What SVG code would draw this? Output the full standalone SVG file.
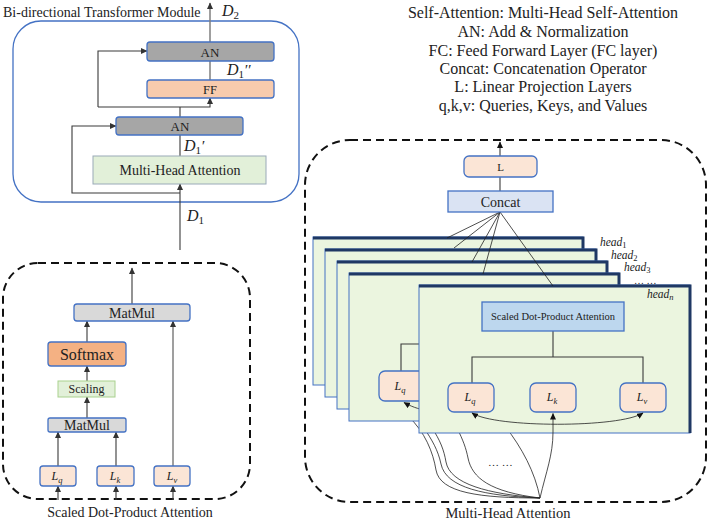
<svg xmlns="http://www.w3.org/2000/svg" width="708" height="521" viewBox="0 0 708 521">
<defs>
<marker id="ah" markerUnits="userSpaceOnUse" markerWidth="7" markerHeight="6" refX="6" refY="3" orient="auto-start-reverse"><path d="M0,0 L6.5,3 L0,6 z" fill="#111"/></marker>
<marker id="ahg" markerUnits="userSpaceOnUse" markerWidth="7" markerHeight="6" refX="6" refY="3" orient="auto"><path d="M0,0 L6.5,3 L0,6 z" fill="#333"/></marker>
<style>
text{font-family:"Liberation Serif","Times New Roman","DejaVu Serif",serif;fill:#222}
.c{text-anchor:middle}
.i{font-style:italic}
.box{stroke:#4472c4;stroke-width:1.3}
.gray{fill:#a6a6a6}
.lg{fill:#d9d9d9}
.pe{fill:#f8cbad}
.lp{fill:#fbe5d6}
.ln{fill:none;stroke:#3a3a3a;stroke-width:1.1}
.lgr{fill:none;stroke:#7f7f7f;stroke-width:1.5}
.thin{fill:none;stroke:#222;stroke-width:0.8}
.dash{fill:none;stroke:#111;stroke-width:2;stroke-dasharray:8 5}
.panel{fill:#ebf5df;stroke:#4472c4;stroke-width:1}
.pedge{fill:none;stroke:#1f3864;stroke-width:3}
</style>
</defs>

<!-- Top: Bi-directional Transformer Module -->
<text x="3" y="17" font-size="14">Bi-directional Transformer Module</text>
<rect x="13" y="21" width="286" height="181" rx="28" fill="none" stroke="#4472c4" stroke-width="1.3"/>

<g id="connectors-top">
<path class="lgr" d="M210,80 V61"/>
<path class="lgr" d="M210,42 V3" marker-end="url(#ahg)"/>
<path class="ln" d="M180,117 V107"/>
<path class="ln" d="M98,107 H210 V98" marker-end="url(#ahg)"/>
<path class="ln" d="M98,107 V51 H147" marker-end="url(#ahg)"/>
<path class="ln" d="M180,156 V135"/>
<path class="ln" d="M180,250 V184" marker-end="url(#ahg)"/>
<path class="ln" d="M180,193 H72 V126 H116" marker-end="url(#ahg)"/>
</g>

<g id="an2"><rect class="box gray" x="147" y="42" width="127" height="19" rx="3"/><text class="c" x="210" y="56.5" font-size="13">AN</text></g>
<g id="ff"><rect class="box pe" x="147" y="80" width="127" height="18" rx="3"/><text class="c" x="210" y="93.5" font-size="12.5">FF</text></g>
<g id="an1"><rect class="box gray" x="116" y="117" width="127" height="18" rx="3"/><text class="c" x="180" y="131" font-size="13">AN</text></g>
<g id="mha"><rect x="93" y="156" width="173" height="28" fill="#e2f0d9" stroke="#9aaab8" stroke-width="1"/><text class="c" x="180" y="175" font-size="14">Multi-Head Attention</text></g>

<text class="i" x="222" y="16" font-size="16">D<tspan font-size="11" dy="3" font-style="normal">2</tspan></text>
<text class="i" x="227" y="75" font-size="16">D<tspan font-size="11" dy="3" font-style="normal">1</tspan><tspan dy="-3" font-size="15">′′</tspan></text>
<text class="i" x="184" y="151" font-size="16">D<tspan font-size="11" dy="3" font-style="normal">1</tspan><tspan dy="-3" font-size="15">′</tspan></text>
<text class="i" x="187" y="221" font-size="16">D<tspan font-size="11" dy="3" font-style="normal">1</tspan></text>

<!-- Bottom-left: Scaled Dot-Product Attention -->
<rect class="dash" x="3" y="263" width="247" height="236" rx="35"/>
<g id="connectors-sdpa">
<path class="ln" d="M132,304 V268" marker-end="url(#ahg)"/>
<path class="ln" d="M87,342 V321" marker-end="url(#ahg)"/>
<path class="ln" d="M87,381 V366" marker-end="url(#ahg)"/>
<path class="ln" d="M87,418 V397" marker-end="url(#ahg)"/>
<path class="ln" d="M58,466 V432" marker-end="url(#ahg)"/>
<path class="ln" d="M116,466 V432" marker-end="url(#ahg)"/>
<path class="lgr" d="M173,466 V321" marker-end="url(#ahg)"/>
<path class="ln" d="M58,500 V486" marker-end="url(#ahg)"/>
<path class="ln" d="M116,500 V486" marker-end="url(#ahg)"/>
<path class="ln" d="M173,500 V486" marker-end="url(#ahg)"/>
</g>
<g id="matmul2"><rect class="box lg" x="74" y="304" width="116" height="17" rx="3"/><text class="c" x="132" y="317.5" font-size="14">MatMul</text></g>
<g id="softmax"><rect class="box" fill="#f4b183" x="48" y="342" width="78" height="24" rx="3"/><text class="c" x="87" y="359.5" font-size="16">Softmax</text></g>
<g id="scaling"><rect x="58" y="381" width="57" height="16" fill="#e2f0d9" stroke="#a9d18e" stroke-width="1"/><text class="c" x="86.5" y="393" font-size="12">Scaling</text></g>
<g id="matmul1"><rect class="box lg" x="48" y="418" width="78" height="14" rx="2"/><text class="c" x="87" y="430" font-size="14">MatMul</text></g>
<g id="lq1"><rect class="box lp" x="40" y="466" width="36" height="20" rx="3"/><text class="c i" x="57" y="480" font-size="12">L<tspan font-size="8.5" dy="2.5">q</tspan></text></g>
<g id="lk1"><rect class="box lp" x="97" y="466" width="37" height="20" rx="3"/><text class="c i" x="115" y="480" font-size="12">L<tspan font-size="8.5" dy="2.5">k</tspan></text></g>
<g id="lv1"><rect class="box lp" x="154" y="466" width="36" height="20" rx="3"/><text class="c i" x="172" y="480" font-size="12">L<tspan font-size="8.5" dy="2.5">v</tspan></text></g>
<text class="c" x="130" y="517" font-size="14">Scaled Dot-Product Attention</text>

<!-- Legend -->
<g id="legend">
<text class="c" x="543" y="18" font-size="16">Self-Attention: Multi-Head Self-Attention</text>
<text class="c" x="543" y="37" font-size="16">AN: Add &amp; Normalization</text>
<text class="c" x="543" y="56" font-size="16">FC: Feed Forward Layer (FC layer)</text>
<text class="c" x="543" y="74" font-size="16">Concat: Concatenation Operator</text>
<text class="c" x="543" y="92" font-size="16">L: Linear Projection Layers</text>
<text class="c" x="543" y="111" font-size="16">q,k,v: Queries, Keys, and Values</text>
</g>

<!-- Right: Multi-Head Attention -->
<rect class="dash" x="305" y="140" width="401" height="362" rx="45"/>

<g id="connectors-mha-back">
<path class="thin" d="M540,498 C480,498 440,493 436,470 C433,452 425,432 408,416"/>
<path class="thin" d="M540,498 C485,496 446,488 441,464 C438,450 432,440 424,428"/>
<path class="thin" d="M540,498 C488,494 450,484 446,462 C444,450 440,440 432,428"/>
<path class="thin" d="M540,498 C490,492 472,478 468,458 C466,448 463,440 457,428"/>
<path class="thin" d="M540,498 C535,472 522,448 505,426"/>
</g>

<g id="head1"><rect class="panel" x="313" y="237" width="270" height="148"/><path class="pedge" d="M313,238 H583 V385"/></g>
<g id="head2"><rect class="panel" x="325" y="249" width="271" height="148"/><path class="pedge" d="M325,250 H596 V397"/></g>
<g id="head3"><rect class="panel" x="337" y="261" width="270" height="148"/><path class="pedge" d="M337,262 H607 V409"/></g>
<g id="head4"><rect class="panel" x="349" y="273" width="270" height="148"/><path class="pedge" d="M349,274 H619 V421"/>
<path class="ln" d="M401,371 V344 H425"/>
<rect class="box lp" x="379" y="371" width="46" height="30" rx="6"/>
<text class="c i" x="400" y="390" font-size="12">L<tspan font-size="8.5" dy="2.5">q</tspan></text>
<path class="thin" d="M428,411 C418,409 410,406 404,402.5" marker-end="url(#ah)"/>
</g>

<g id="headn"><rect class="panel" x="419" y="285" width="271" height="148"/><path class="pedge" d="M419,286 H690 V433"/>
<path class="ln" d="M553,331 V357 M472,383 V357 H643 V383"/>
<g id="sdpa-n"><rect class="box" fill="#bdd7ee" x="482" y="302" width="142" height="29"/><text class="c" x="553" y="320" font-size="10.5">Scaled Dot-Product Attention</text></g>
<g id="lq2"><rect class="box lp" x="448" y="383" width="46" height="29" rx="6"/><text class="c i" x="470" y="401" font-size="12">L<tspan font-size="8.5" dy="2.5">q</tspan></text></g>
<g id="lk2"><rect class="box lp" x="530" y="383" width="46" height="29" rx="6"/><text class="c i" x="552" y="401" font-size="12">L<tspan font-size="8.5" dy="2.5">k</tspan></text></g>
<g id="lv2"><rect class="box lp" x="620" y="383" width="46" height="29" rx="6"/><text class="c i" x="642" y="401" font-size="12">L<tspan font-size="8.5" dy="2.5">v</tspan></text></g>
<path class="thin" d="M472,413 C495,428 620,428 643,413" marker-start="url(#ah)" marker-end="url(#ah)"/>
</g>

<g id="connectors-mha">
<path class="thin" d="M540,498 C546,472 553,455 553,432 L553,413.5" marker-end="url(#ah)"/>
<path class="thin" d="M500,212 L447,238 M500,212 L454,248 M500,212 L472,262 M500,212 L483,274 M500,212 L553,286"/>
<path class="ln" d="M500,191 V177"/>
<path class="ln" d="M500,156 V142" marker-end="url(#ah)"/>
</g>

<g id="concat"><rect class="box" fill="#dae3f3" x="448" y="191" width="105" height="21"/><text class="c" x="500.5" y="206.5" font-size="14">Concat</text></g>
<g id="lproj"><rect class="box lp" x="464" y="156" width="73" height="21" rx="5"/><text class="c" x="500.5" y="170.5" font-size="11">L</text></g>

<g id="head-labels">
<text class="i" x="600" y="246" font-size="11.5">head<tspan font-size="8.5" dy="2" font-style="normal">1</tspan></text>
<text class="i" x="611" y="258.5" font-size="11.5">head<tspan font-size="8.5" dy="2" font-style="normal">2</tspan></text>
<text class="i" x="624" y="271" font-size="11.5">head<tspan font-size="8.5" dy="2" font-style="normal">3</tspan></text>
<text x="634" y="284" font-size="10">… …</text>
<text class="i" x="647" y="298" font-size="11.5">head<tspan font-size="8.5" dy="2">n</tspan></text>
</g>
<text x="488" y="466" font-size="11">… …</text>
<text class="c" x="508" y="518" font-size="14.5">Multi-Head Attention</text>
</svg>
